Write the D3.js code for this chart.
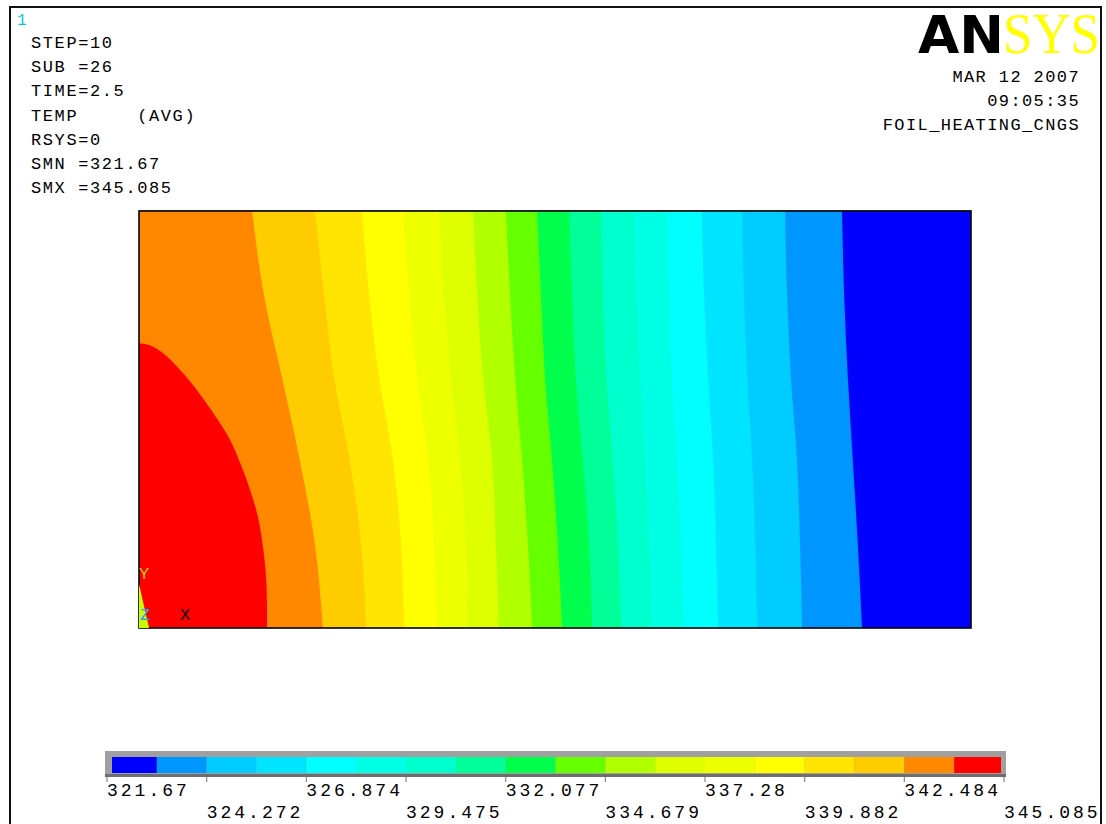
<!DOCTYPE html>
<html><head><meta charset="utf-8">
<script src="https://cdn.jsdelivr.net/npm/d3@7"></script>
<style>
body{margin:0;background:#fff}
svg text{font-family:"Liberation Mono","DejaVu Sans Mono",monospace}
</style>
</head><body>
<svg id="chart" width="1106" height="824"></svg>
<script>
// ---------- data ----------
const legendLevels = [321.67, 324.272, 326.874, 329.475, 332.077, 334.679, 337.28, 339.882, 342.484, 345.085];
// 18 contour colours, coldest -> hottest
const bandColors = ["#0000FF","#0096FF","#00CCFF","#00E5FF","#00FFFF","#00FFE5","#00FFCC","#00FF99","#00FF4C",
                    "#66FF00","#B2FF00","#DDFF00","#EEFF00","#FFFF00","#FFE500","#FFCC00","#FF8800","#FF0000"];
// model rows (y, 0 = bottom edge, 1 = top edge)
const rowY = [1.0, 0.8, 0.6, 0.4, 0.2, 0.0];
// contour boundaries: x position (model units, plate width 2) at each row; boundary k has band (17-k) on its left
const boundary01 = [0.272, 0.300, 0.344, 0.387, 0.423, 0.442];
const boundary02 = [0.423, 0.445, 0.469, 0.507, 0.534, 0.546];
const boundary03 = [0.536, 0.553, 0.577, 0.611, 0.630, 0.637];
const boundary04 = [0.635, 0.649, 0.668, 0.695, 0.709, 0.716];
const boundary05 = [0.721, 0.733, 0.750, 0.772, 0.786, 0.791];
const boundary06 = [0.803, 0.813, 0.827, 0.849, 0.858, 0.865];
const boundary07 = [0.882, 0.892, 0.904, 0.921, 0.935, 0.945];
const boundary08 = [0.957, 0.966, 0.976, 0.993, 1.007, 1.017];
const boundary09 = [1.034, 1.041, 1.050, 1.067, 1.082, 1.089];
const boundary10 = [1.111, 1.115, 1.123, 1.139, 1.151, 1.159];
const boundary11 = [1.188, 1.195, 1.204, 1.216, 1.226, 1.233];
const boundary12 = [1.269, 1.274, 1.281, 1.293, 1.303, 1.308];
const boundary13 = [1.353, 1.358, 1.368, 1.380, 1.387, 1.392];
const boundary14 = [1.450, 1.454, 1.462, 1.474, 1.481, 1.486];
const boundary15 = [1.553, 1.558, 1.567, 1.582, 1.589, 1.594];
const boundary16 = [1.690, 1.695, 1.704, 1.716, 1.728, 1.738];
// hottest (red) zone boundary around the heated corner
const hotX = [0.000, 0.026, 0.058, 0.099, 0.139, 0.178, 0.219, 0.243, 0.267, 0.286, 0.298, 0.306, 0.308];
const hotY = [0.683, 0.678, 0.659, 0.619, 0.571, 0.516, 0.451, 0.396, 0.331, 0.266, 0.194, 0.115, 0.000];

const infoLines = ["STEP=10", "SUB =26", "TIME=2.5", "TEMP     (AVG)", "RSYS=0", "SMN =321.67", "SMX =345.085"];
const stampLines = ["MAR 12 2007", "09:05:35", "FOIL_HEATING_CNGS"];

// ---------- drawing ----------
const svg = d3.select("#chart");
const plot = {left: 139, right: 971, top: 211, bottom: 628};
const x = d3.scaleLinear().domain([0, 2]).range([plot.left, plot.right]);
const y = d3.scaleLinear().domain([0, 1]).range([plot.bottom, plot.top]);

// outer frame
svg.append("rect").attr("x", 10).attr("y", 7).attr("width", 1091).attr("height", 840)
  .attr("fill", "none").attr("stroke", "#111").attr("stroke-width", 2);

// clip for contour plot
svg.append("defs").append("clipPath").attr("id", "plotclip")
  .append("rect").attr("x", x(0)).attr("y", y(1)).attr("width", x(2) - x(0)).attr("height", y(0) - y(1));

const g = svg.append("g").attr("clip-path", "url(#plotclip)");
g.append("rect").attr("x", x(0)).attr("y", y(1)).attr("width", x(2) - x(0)).attr("height", y(0) - y(1))
  .attr("fill", bandColors[0]);

const boundaries = [boundary01, boundary02, boundary03, boundary04, boundary05, boundary06, boundary07, boundary08,
  boundary09, boundary10, boundary11, boundary12, boundary13, boundary14, boundary15, boundary16];

const leftArea = d3.area()
  .y(d => y(d[1])).x0(x(0)).x1(d => x(d[0]))
  .curve(d3.curveMonotoneY);

// draw from coldest boundary to hottest so warmer bands overlay
for (let k = boundaries.length; k >= 1; k--) {
  const pts = boundaries[k - 1].map((v, i) => [v, rowY[i]]).reverse(); // bottom -> top
  g.append("path").attr("d", leftArea(pts)).attr("fill", bandColors[17 - k]);
}
// red zone (closed through the heated corner)
const hotPts = hotX.map((v, i) => [v, hotY[i]]);
const hotLine = d3.line().x(d => x(d[0])).y(d => y(d[1])).curve(d3.curveCatmullRom.alpha(0.5));
g.append("path").attr("d", hotLine(hotPts) + `L${x(0)},${y(0)}Z`).attr("fill", bandColors[17]);

// plot frame
svg.append("rect").attr("x", x(0)).attr("y", y(1) - 1).attr("width", x(2) - x(0)).attr("height", 1)
  .attr("fill", "#999");
svg.append("rect").attr("x", x(0)).attr("y", y(1)).attr("width", x(2) - x(0)).attr("height", y(0) - y(1))
  .attr("fill", "none").attr("stroke", "#000").attr("stroke-width", 1.6);

// triad
const ox = x(0), oy = y(0);
svg.append("path").attr("d", `M${ox},${oy - 44} L${ox + 10},${oy} L${ox},${oy} Z`).attr("fill", "#C8FF00");
svg.append("text").attr("x", ox).attr("y", oy - 49).attr("fill", "#CCCC00").attr("font-size", 17).text("Y");
svg.append("text").attr("x", ox + 1).attr("y", oy - 8).attr("fill", "#3399FF").attr("font-size", 17).text("Z");
svg.append("text").attr("x", ox + 41).attr("y", oy - 8).attr("fill", "#000").attr("font-size", 17).text("X");

// top-left text
svg.append("text").attr("x", 17).attr("y", 25).attr("fill", "#00CCDD").attr("font-size", 16).text("1");
svg.selectAll("text.info").data(infoLines).join("text").attr("class", "info")
  .attr("x", 31).attr("y", (d, i) => 48 + i * 24.2)
  .attr("font-size", 17).attr("letter-spacing", 1.6).attr("fill", "#000")
  .style("white-space", "pre").attr("xml:space", "preserve").text(d => d);

// ANSYS logo
svg.append("text").attr("x", 918).attr("y", 53).attr("font-size", 52).attr("font-weight", 900)
  .style("font-family", "'DejaVu Sans',sans-serif").attr("textLength", 86).attr("lengthAdjust", "spacingAndGlyphs")
  .attr("fill", "#000").text("AN");
svg.append("text").attr("x", 1003).attr("y", 53).attr("font-size", 56)
  .style("font-family", "'Liberation Serif',serif").attr("textLength", 97).attr("lengthAdjust", "spacingAndGlyphs")
  .attr("fill", "#FFFF00").text("SYS");

svg.selectAll("text.stamp").data(stampLines).join("text").attr("class", "stamp")
  .attr("x", 1080).attr("y", (d, i) => 82 + i * 24.2).attr("text-anchor", "end")
  .attr("font-size", 17).attr("letter-spacing", 1.4).attr("fill", "#000").text(d => d);

// legend
const lx = d3.scaleLinear().domain([legendLevels[0], legendLevels[legendLevels.length - 1]]).range([107, 1004]);
const bandEdges = legendLevels.flatMap((v, i) => i < legendLevels.length - 1 ? [v, (v + legendLevels[i + 1]) / 2] : [v]);
svg.append("rect").attr("x", 105).attr("y", 751).attr("width", 901).attr("height", 26).attr("fill", "#A0A0A0");
svg.append("rect").attr("x", 105).attr("y", 774).attr("width", 901).attr("height", 3).attr("fill", "#6E6E6E");
svg.selectAll("rect.band").data(d3.pairs(bandEdges)).join("rect").attr("class", "band")
  .attr("x", d => Math.max(lx(d[0]), 112)).attr("y", 757)
  .attr("width", d => Math.min(lx(d[1]), 1001) - Math.max(lx(d[0]), 112)).attr("height", 16)
  .attr("fill", (d, i) => bandColors[i]);
svg.selectAll("line.tick").data(legendLevels).join("line").attr("class", "tick")
  .attr("x1", d => lx(d)).attr("x2", d => lx(d)).attr("y1", 777).attr("y2", 782)
  .attr("stroke", "#888").attr("stroke-width", 1.2);
svg.selectAll("text.lab").data(legendLevels).join("text").attr("class", "lab")
  .attr("x", d => lx(d)).attr("y", (d, i) => i % 2 === 0 ? 796 : 818)
  .attr("font-size", 18).attr("letter-spacing", 3).attr("fill", "#000")
  .text(d => String(d));
</script>
</body></html>
